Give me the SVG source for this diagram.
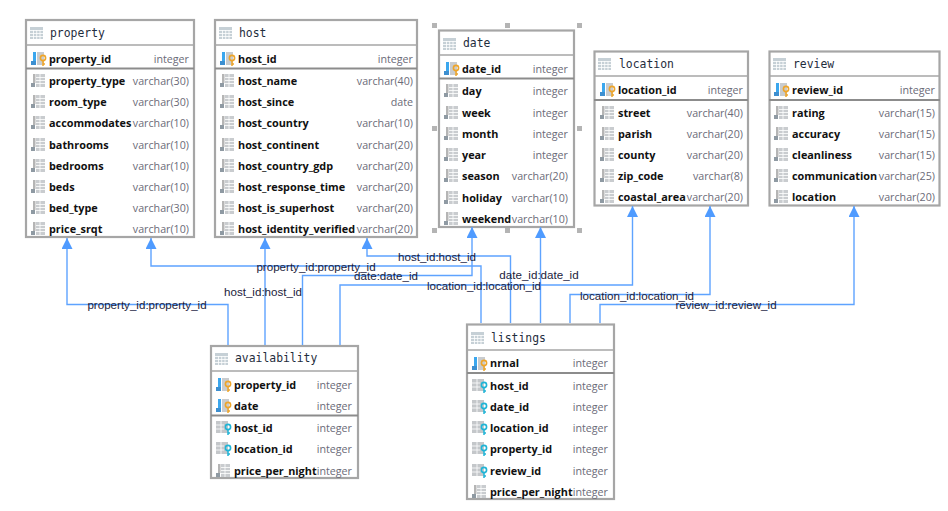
<svg xmlns="http://www.w3.org/2000/svg" width="948" height="511" viewBox="0 0 948 511">
<style>
.box{fill:#fff;stroke:#a6a6a6;stroke-width:2.2}
.sep{stroke:#a6a6a6;stroke-width:1.5;fill:none}
.sep2{stroke:#8c8c8c;stroke-width:2;fill:none}
.t{font:11.4px "DejaVu Sans Mono",monospace;fill:#1f2d3d}
.n{font:bold 10.85px "Open Sans","Noto Sans",sans-serif;fill:#111}
.y{font:10.7px "Open Sans","Noto Sans",sans-serif;fill:#6b6b78;text-anchor:end}
.c{fill:none;stroke:#5ea3ff;stroke-width:1.4}
.l{font:11.6px "Liberation Sans",Arial,sans-serif;fill:#1c1c3c;text-anchor:middle}
.h{fill:#b4b4b4}
</style>
<defs>
<marker id="a" markerUnits="userSpaceOnUse" markerWidth="12" markerHeight="11" refX="11" refY="5.5" orient="auto"><path d="M0 0L11 5.5L0 11z" fill="#4f9bff"/></marker>
<g id="ti"><rect width="13" height="12" fill="#c6d0d6"/><path d="M0 3.5H13M0 6.5H13M0 9.5H13M3.500 3V12M6.700 3V12M10 3V12" stroke="#fff" stroke-width=".8"/></g>
<g id="co"><rect x="2" width="2.500" height="9" fill="#b5b5b5"/><rect y="9" width="4" height="4" fill="#8f9aa3"/><rect x="5" width="9" height="13" fill="#c9cccf"/><path d="M5 3.5H14M5 6.5H14M5 9.5H14M9 0V13" stroke="#fff" stroke-width=".8"/></g>
<g id="pk"><rect x="2" width="3" height="9" fill="#3ba7ee"/><rect y="9" width="5" height="4" fill="#3d8fd0"/><rect x="6" width="7" height="13" fill="#c9cccf"/><circle cx="12" cy="6" r="2.600" fill="none" stroke="#eea52a" stroke-width="1.6"/><path d="M12 8.500V14M12 12H14" stroke="#eea52a" stroke-width="1.5"/></g>
<g id="fk"><rect width="12" height="12" fill="#c4c7ca"/><path d="M0 4H8M0 8H8M5 0V12" stroke="#fff" stroke-width=".8"/><circle cx="12" cy="6" r="2.600" fill="none" stroke="#1fb4d6" stroke-width="1.6"/><path d="M12 8.500V14M12 12H14" stroke="#1fb4d6" stroke-width="1.5"/></g>
</defs>
<rect width="948" height="511" fill="#fff"/>

<g id="property">
<rect class="box" x="26" y="20" width="168" height="217"/>
<path class="sep" d="M26 45H194"/><path class="sep2" d="M26 68.500H194"/>
<use href="#ti" x="30" y="27"/><text class="t" x="50" y="37">property</text>
<use href="#pk" x="31" y="52"/><text class="n" x="49" y="63">property_id</text><text class="y" x="189" y="63">integer</text>
<use href="#co" x="31" y="74"/><text class="n" x="49" y="85">property_type</text><text class="y" x="189" y="85">varchar(30)</text>
<use href="#co" x="31" y="95"/><text class="n" x="49" y="106">room_type</text><text class="y" x="189" y="106">varchar(30)</text>
<use href="#co" x="31" y="116"/><text class="n" x="49" y="127">accommodates</text><text class="y" x="189" y="127">varchar(10)</text>
<use href="#co" x="31" y="138"/><text class="n" x="49" y="149">bathrooms</text><text class="y" x="189" y="149">varchar(10)</text>
<use href="#co" x="31" y="159"/><text class="n" x="49" y="170">bedrooms</text><text class="y" x="189" y="170">varchar(10)</text>
<use href="#co" x="31" y="180"/><text class="n" x="49" y="191">beds</text><text class="y" x="189" y="191">varchar(10)</text>
<use href="#co" x="31" y="201"/><text class="n" x="49" y="212">bed_type</text><text class="y" x="189" y="212">varchar(30)</text>
<use href="#co" x="31" y="222"/><text class="n" x="49" y="233">price_srqt</text><text class="y" x="189" y="233">varchar(10)</text>
</g>

<g id="host">
<rect class="box" x="215" y="20" width="202" height="217"/>
<path class="sep" d="M215 45H417"/><path class="sep2" d="M215 68.500H417"/>
<use href="#ti" x="219" y="27"/><text class="t" x="239" y="37">host</text>
<use href="#pk" x="220" y="52"/><text class="n" x="238" y="63">host_id</text><text class="y" x="413" y="63">integer</text>
<use href="#co" x="220" y="74"/><text class="n" x="238" y="85">host_name</text><text class="y" x="413" y="85">varchar(40)</text>
<use href="#co" x="220" y="95"/><text class="n" x="238" y="106">host_since</text><text class="y" x="413" y="106">date</text>
<use href="#co" x="220" y="116"/><text class="n" x="238" y="127">host_country</text><text class="y" x="413" y="127">varchar(10)</text>
<use href="#co" x="220" y="138"/><text class="n" x="238" y="149">host_continent</text><text class="y" x="413" y="149">varchar(20)</text>
<use href="#co" x="220" y="159"/><text class="n" x="238" y="170">host_country_gdp</text><text class="y" x="413" y="170">varchar(20)</text>
<use href="#co" x="220" y="180"/><text class="n" x="238" y="191">host_response_time</text><text class="y" x="413" y="191">varchar(20)</text>
<use href="#co" x="220" y="201"/><text class="n" x="238" y="212">host_is_superhost</text><text class="y" x="413" y="212">varchar(20)</text>
<use href="#co" x="220" y="222"/><text class="n" x="238" y="233">host_identity_verified</text><text class="y" x="413" y="233">varchar(20)</text>
</g>

<g id="date">
<rect class="box" x="439" y="30.500" width="135" height="196.500"/>
<path class="sep" d="M439 55H574"/><path class="sep2" d="M439 78.500H574"/>
<use href="#ti" x="443" y="38"/><text class="t" x="463" y="47">date</text>
<use href="#pk" x="444" y="62"/><text class="n" x="462" y="73">date_id</text><text class="y" x="568" y="73">integer</text>
<use href="#co" x="444" y="84"/><text class="n" x="462" y="95">day</text><text class="y" x="568" y="95">integer</text>
<use href="#co" x="444" y="106"/><text class="n" x="462" y="117">week</text><text class="y" x="568" y="117">integer</text>
<use href="#co" x="444" y="127"/><text class="n" x="462" y="138">month</text><text class="y" x="568" y="138">integer</text>
<use href="#co" x="444" y="148"/><text class="n" x="462" y="159">year</text><text class="y" x="568" y="159">integer</text>
<use href="#co" x="444" y="169"/><text class="n" x="462" y="180">season</text><text class="y" x="568" y="180">varchar(20)</text>
<use href="#co" x="444" y="191"/><text class="n" x="462" y="202">holiday</text><text class="y" x="568" y="202">varchar(10)</text>
<use href="#co" x="444" y="212"/><text class="n" x="462" y="223">weekend</text><text class="y" x="568" y="223">varchar(10)</text>
<rect class="h" x="432" y="23" width="5" height="5"/><rect class="h" x="505" y="23" width="5" height="5"/><rect class="h" x="577" y="23" width="5" height="5"/>
<rect class="h" x="432" y="126" width="5" height="5"/><rect class="h" x="577" y="126" width="5" height="5"/>
<rect class="h" x="432" y="228" width="5" height="5"/><rect class="h" x="505" y="228" width="5" height="5"/><rect class="h" x="577" y="228" width="5" height="5"/>
</g>

<g id="location">
<rect class="box" x="594.500" y="51.500" width="153.500" height="154"/>
<path class="sep" d="M594 76H748"/><path class="sep2" d="M594 100H748"/>
<use href="#ti" x="598" y="58"/><text class="t" x="619" y="68">location</text>
<use href="#pk" x="600" y="83"/><text class="n" x="618" y="94">location_id</text><text class="y" x="743" y="94">integer</text>
<use href="#co" x="600" y="106"/><text class="n" x="618" y="117">street</text><text class="y" x="743" y="117">varchar(40)</text>
<use href="#co" x="600" y="127"/><text class="n" x="618" y="138">parish</text><text class="y" x="743" y="138">varchar(20)</text>
<use href="#co" x="600" y="148"/><text class="n" x="618" y="159">county</text><text class="y" x="743" y="159">varchar(20)</text>
<use href="#co" x="600" y="169"/><text class="n" x="618" y="180">zip_code</text><text class="y" x="743" y="180">varchar(8)</text>
<use href="#co" x="600" y="190"/><text class="n" x="618" y="201">coastal_area</text><text class="y" x="743" y="201">varchar(20)</text>
</g>

<g id="review">
<rect class="box" x="769.500" y="51.500" width="170" height="154"/>
<path class="sep" d="M769 76H940"/><path class="sep2" d="M769 100H940"/>
<use href="#ti" x="773" y="58"/><text class="t" x="793" y="68">review</text>
<use href="#pk" x="774" y="83"/><text class="n" x="792" y="94">review_id</text><text class="y" x="935" y="94">integer</text>
<use href="#co" x="774" y="106"/><text class="n" x="792" y="117">rating</text><text class="y" x="935" y="117">varchar(15)</text>
<use href="#co" x="774" y="127"/><text class="n" x="792" y="138">accuracy</text><text class="y" x="935" y="138">varchar(15)</text>
<use href="#co" x="774" y="148"/><text class="n" x="792" y="159">cleanliness</text><text class="y" x="935" y="159">varchar(15)</text>
<use href="#co" x="774" y="169"/><text class="n" x="792" y="180">communication</text><text class="y" x="935" y="180">varchar(25)</text>
<use href="#co" x="774" y="190"/><text class="n" x="792" y="201">location</text><text class="y" x="935" y="201">varchar(20)</text>
</g>

<g id="availability">
<rect class="box" x="211" y="346" width="147" height="132"/>
<path class="sep" d="M211 371H358"/><path class="sep2" d="M211 415.500H358"/>
<use href="#ti" x="215" y="353"/><text class="t" x="235" y="362">availability</text>
<use href="#pk" x="216" y="378"/><text class="n" x="234" y="389">property_id</text><text class="y" x="352" y="389">integer</text>
<use href="#pk" x="216" y="399"/><text class="n" x="234" y="410">date</text><text class="y" x="352" y="410">integer</text>
<use href="#fk" x="216" y="421"/><text class="n" x="234" y="432">host_id</text><text class="y" x="352" y="432">integer</text>
<use href="#fk" x="216" y="442"/><text class="n" x="234" y="453">location_id</text><text class="y" x="352" y="453">integer</text>
<use href="#co" x="216" y="464"/><text class="n" x="234" y="475">price_per_night</text><text class="y" x="352" y="475">integer</text>
</g>

<g id="listings">
<rect class="box" x="467" y="324.500" width="147" height="174.500"/>
<path class="sep" d="M467 350H614"/><path class="sep2" d="M467 373H614"/>
<use href="#ti" x="471" y="332"/><text class="t" x="491" y="342">listings</text>
<use href="#pk" x="472" y="357"/><text class="n" x="490" y="367">nrnal</text><text class="y" x="608" y="367">integer</text>
<use href="#fk" x="472" y="379"/><text class="n" x="490" y="390">host_id</text><text class="y" x="608" y="390">integer</text>
<use href="#fk" x="472" y="400"/><text class="n" x="490" y="411">date_id</text><text class="y" x="608" y="411">integer</text>
<use href="#fk" x="472" y="421"/><text class="n" x="490" y="432">location_id</text><text class="y" x="608" y="432">integer</text>
<use href="#fk" x="472" y="442"/><text class="n" x="490" y="453">property_id</text><text class="y" x="608" y="453">integer</text>
<use href="#fk" x="472" y="464"/><text class="n" x="490" y="475">review_id</text><text class="y" x="608" y="475">integer</text>
<use href="#co" x="472" y="485"/><text class="n" x="490" y="496">price_per_night</text><text class="y" x="608" y="496">integer</text>
</g>

<g id="connectors">
<path class="c" marker-end="url(#a)" d="M228 345V304.500H67V238"/>
<path class="c" marker-end="url(#a)" d="M265 345V238"/>
<path class="c" marker-end="url(#a)" d="M302.500 345V275.500H472V227"/>
<path class="c" marker-end="url(#a)" d="M340 345V285H632.500V206"/>
<path class="c" marker-end="url(#a)" d="M481 323V266H151V238"/>
<path class="c" marker-end="url(#a)" d="M510.500 323V256H367V238"/>
<path class="c" marker-end="url(#a)" d="M540.500 323V227"/>
<path class="c" marker-end="url(#a)" d="M570 323V294.500H710V206"/>
<path class="c" marker-end="url(#a)" d="M600 323V304.500H854V206"/>
<text class="l" x="147" y="309">property_id:property_id</text>
<text class="l" x="263" y="296">host_id:host_id</text>
<text class="l" x="316" y="271">property_id:property_id</text>
<text class="l" x="437" y="261">host_id:host_id</text>
<text class="l" x="386" y="280">date:date_id</text>
<text class="l" x="484" y="290">location_id:location_id</text>
<text class="l" x="539" y="279">date_id:date_id</text>
<text class="l" x="637" y="300">location_id:location_id</text>
<text class="l" x="726" y="309">review_id:review_id</text>
</g>
</svg>
